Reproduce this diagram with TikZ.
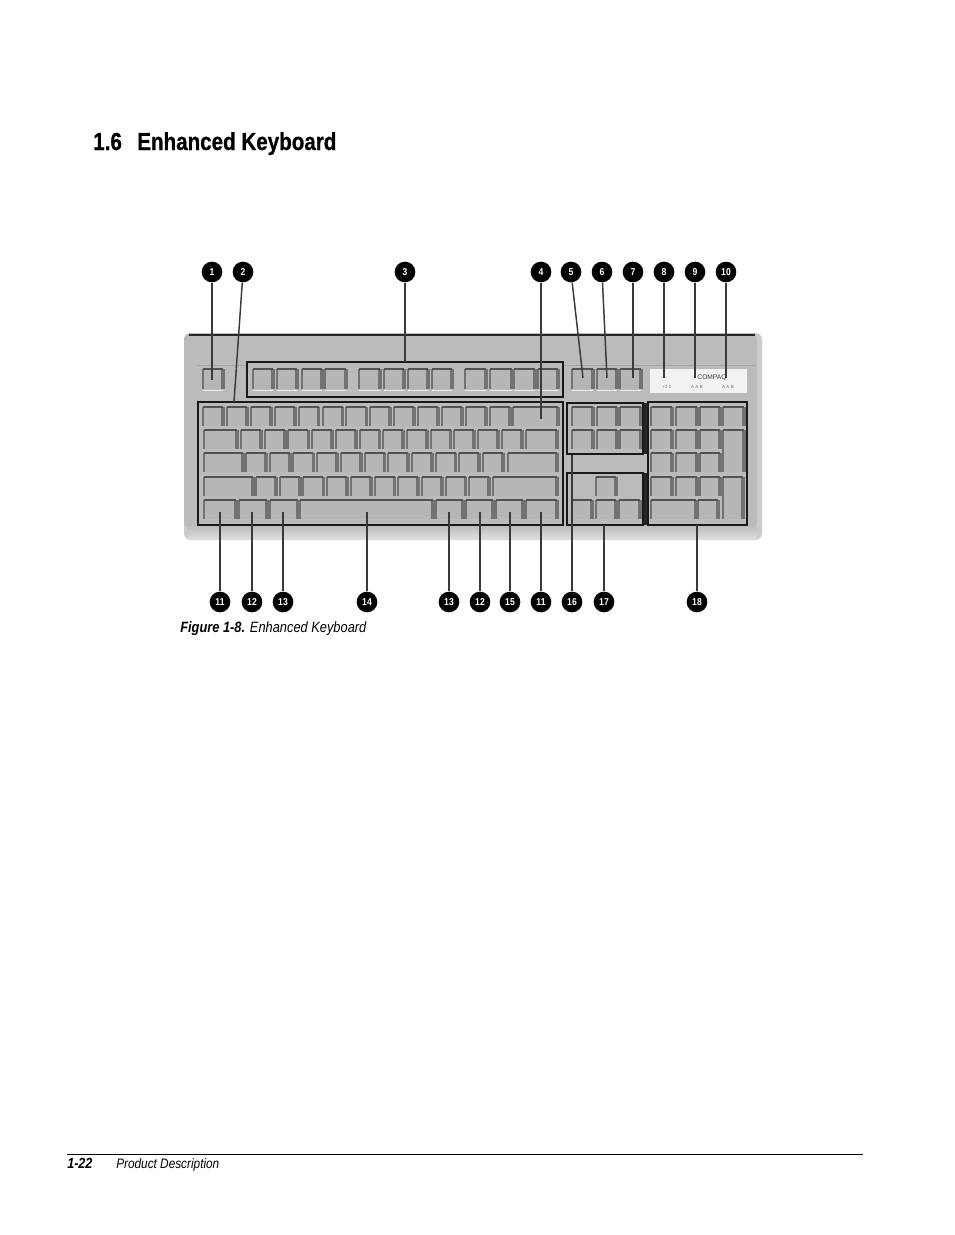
\documentclass[tikz,border=0pt]{standalone}
\usepackage{fontspec}
\setmainfont{Liberation Sans}
\newfontfamily\narrowfont[FakeStretch=0.86]{Liberation Sans}
\newfontfamily\titlefont[FakeStretch=0.835,BoldFeatures={FakeBold=0.6}]{Liberation Sans}
\usetikzlibrary{calc}
\definecolor{bodygray}{HTML}{BBBBBB}
\definecolor{keygray}{HTML}{B6B6B6}
\definecolor{keyside}{HTML}{727272}
\definecolor{leadergray}{HTML}{3A3A3A}
\tikzset{
  x=0.75pt,y=-0.75pt,
  badge/.style={circle,fill=black,text=white,minimum size=15.5pt,inner sep=0pt,font=\narrowfont\bfseries\fontsize{7.5}{8}\selectfont},
  frame/.style={draw=black!90,line width=1.5pt},
  leader/.style={draw=leadergray,line width=1.1pt},
  keytop/.style={draw=black!68,line width=1.7pt},
  keyr/.style={draw=keyside,line width=2.8pt},
  keyl/.style={draw=keyside,line width=1.5pt},
  keylight/.style={draw=white!85!gray,line width=0.8pt},
  label/.style={anchor=base west,inner sep=0pt,text=black},
}
\newcommand{\kbkey}[4]{% x1 y1 x2 y2
  \fill[keygray] (#1,#2) rectangle (#3,#4);
  \draw[keyl] (#1,#2) -- (#1,#4);
  \draw[keyr] (#3,#2) -- (#3,#4);
  \draw[keytop] (#1,#2) -- (#3,#2);
}
\newcommand{\keyrow}[5]{% start pitch count y1 y2
  \pgfmathsetmacro{\lastk}{#3-1}
  \foreach \i in {0,...,\lastk}{
    \pgfmathsetmacro{\xa}{#1+#2*\i}
    \pgfmathsetmacro{\xb}{\xa+20}
    \kbkey{\xa}{#4}{\xb}{#5}
  }
}
\begin{document}
\begin{tikzpicture}
\useasboundingbox (0,0) rectangle (954,1235);
\fill[white] (0,0) rectangle (954,1235);

% Heading
\node[label,font=\titlefont\bfseries\fontsize{18.5}{20}\selectfont] (title) at (93,150) {1.6};
\node[label,font=\titlefont\bfseries\fontsize{18.5}{20}\selectfont] (titleb) at (137,150) {Enhanced Keyboard};

% Keyboard body
\fill[black!20,rounded corners=5pt] (184,333) rectangle (762,540);
\fill[bodygray,rounded corners=5pt] (184,333) rectangle (757,528);
\shade[top color=bodygray,bottom color=black!12,rounded corners=4pt] (187,525) rectangle (758,540);
\draw[black!85,line width=1.8pt] (189,335) -- (755,335);
\draw[gray!70,line width=0.4pt] (197,365) -- (247,365);
\draw[gray!70,line width=0.4pt] (563,365) -- (755,365);

% Logo panel
\fill[black!5] (650,369) rectangle (747,393);
\node[inner sep=0pt,text=black!75,font=\fontsize{5}{5}\selectfont] (logo) at (712,378) {COMPAQ};
\node[inner sep=0pt,text=black!55,font=\fontsize{3.4}{4}\selectfont] (ledA) at (667,387) {+1 0};
\node[inner sep=0pt,text=black!55,font=\fontsize{3.4}{4}\selectfont] (ledB) at (697,387) {A A B};
\node[inner sep=0pt,text=black!55,font=\fontsize{3.4}{4}\selectfont] (ledC) at (728,387) {A A B};

% Function row
\foreach \a/\b in {203/223,253/273,277/297,302/322,325/346,359/380,384/404,408/428,432/452,465/486,490/512,514/535,538/558,572/593,597/617,620/641}{
  \draw[keylight] (\a,390.5) -- (\b,390.5);
  \kbkey{\a}{369}{\b}{389}
}

% Main block
\keyrow{203}{23.9}{13}{407}{426}
\kbkey{513}{407}{558}{426}
\kbkey{204}{430}{237}{449}
\keyrow{241}{23.7}{12}{430}{449}
\kbkey{526}{430}{557}{449}
\kbkey{204}{453}{243}{472}
\keyrow{246}{23.7}{11}{453}{472}
\kbkey{508}{453}{557}{472}
\kbkey{204}{477}{253}{496}
\keyrow{256}{23.7}{10}{477}{496}
\kbkey{493}{477}{557}{496}
\foreach \a/\b in {204/236,239/267,270/298,300/433,436/463,466/493,496/523,526/557}{
  \kbkey{\a}{500}{\b}{519}
}

% Navigation block
\foreach \y/\yy in {407/426,430/449}{
  \foreach \a/\b in {572/593,597/617,620/641}{
    \kbkey{\a}{\y}{\b}{\yy}
  }
}
\kbkey{596}{477}{616}{496}
\foreach \a/\b in {572/592,596/616,619/640}{
  \kbkey{\a}{500}{\b}{519}
}

% Numeric pad
\foreach \y/\yy in {407/426,430/449,453/472,477/496}{
  \foreach \a/\b in {651/672,676/697,700/720}{
    \kbkey{\a}{\y}{\b}{\yy}
  }
}
\kbkey{723}{407}{744}{426}
\kbkey{723}{430}{744}{472}
\kbkey{723}{477}{743}{519}
\kbkey{651}{500}{696}{519}
\kbkey{698}{500}{718}{519}

% Group frames
\fill[black!85] (643,403) rectangle (648,454);
\fill[black!85] (643,473) rectangle (648,525);
\draw[frame] (247,362) rectangle (563,397);
\draw[frame] (198,402) rectangle (563,525);
\draw[frame] (567,403) rectangle (643,454);
\draw[frame] (567,473) rectangle (643,525);
\draw[frame] (648,402) rectangle (747,525);

% Badges and leaders, top
\foreach \n/\lab/\bx/\ex/\ey in {t1/1/212/212/380,t2/2/243/234/402,t3/3/405/405/362,t4/4/541/541/419,t5/5/571/583/378,t6/6/602/607/378,t7/7/633/633/378,t8/8/664/664/378,t9/9/695/695/378,t10/10/726/726/378}{
  \coordinate (\n e) at (\ex,\ey);
  \node[badge] (\n) at (\bx,272) {\lab};
  \draw[leader] (\n) -- (\n e);
}
% Badges and leaders, bottom
\foreach \n/\lab/\bx/\ey in {b1/11/220/512,b2/12/252/512,b3/13/283/512,b4/14/367/512,b5/13/449/512,b6/12/480/512,b7/15/510/512,b8/11/541/512,b9/16/572/455,b10/17/604/525,b11/18/697/525}{
  \coordinate (\n e) at (\bx,\ey);
  \node[badge] (\n) at (\bx,602) {\lab};
  \draw[leader] (\n) -- (\n e);
}

% Caption
\node[label,font=\narrowfont\fontsize{11.2}{13}\selectfont] (caption) at (180,632) {\textbf{\textit{Figure 1-8.}} \textit{Enhanced Keyboard}};

% Footer
\coordinate (ruleL) at (67,1154);
\coordinate (ruleR) at (863,1154);
\draw[black,line width=0.7pt] (ruleL) -- (ruleR);
\node[label,font=\narrowfont\bfseries\itshape\fontsize{11}{12}\selectfont] (pageno) at (67,1168) {1-22};
\node[label,font=\narrowfont\itshape\fontsize{10.3}{12}\selectfont] (foot) at (116,1168) {Product Description};
\end{tikzpicture}
\end{document}
